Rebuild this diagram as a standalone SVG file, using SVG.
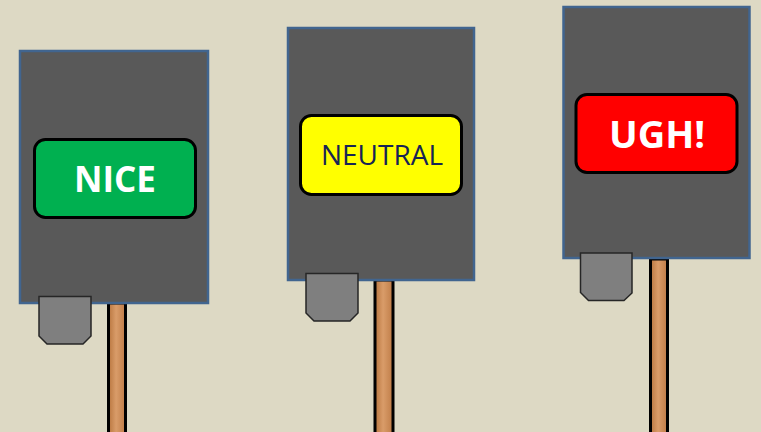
<svg xmlns="http://www.w3.org/2000/svg" width="761" height="432" viewBox="0 0 761 432">
<defs>
<linearGradient id="wood" x1="0" y1="0" x2="1" y2="0">
<stop offset="0" stop-color="#B9763F"/>
<stop offset="0.45" stop-color="#D99C69"/>
<stop offset="1" stop-color="#BF7C47"/>
</linearGradient>
<style>
.board{fill:#595959;stroke:#41658F;stroke-width:2.5}
.pole{fill:url(#wood);stroke:#000;stroke-width:3}
.tab{fill:#7F7F7F;stroke:#262626;stroke-width:1.5;stroke-linejoin:miter}
.lbl{stroke:#000;stroke-width:3}
.t{font-family:"Open Sans","Liberation Sans",sans-serif;text-anchor:middle}
</style>
</defs>
<rect width="761" height="432" fill="#DDD9C4"/>
<g id="sign-nice">
<rect class="pole" x="108.5" y="303" width="17" height="135"/>
<rect class="board" x="20" y="51" width="188" height="252"/>
<polygon class="tab" points="39,296.5 91,296.5 91,336 83,344 47,344 39,336"/>
<rect class="lbl" x="34.5" y="139.5" width="161" height="78" rx="11" fill="#00B050"/>
<text class="t" x="115" y="192" font-size="35" font-weight="bold" fill="#FFFFFF">NICE</text>
</g>
<g id="sign-neutral">
<rect class="pole" x="375" y="280" width="18" height="158"/>
<rect class="board" x="288" y="28" width="186" height="252"/>
<polygon class="tab" points="306,273.5 358,273.5 358,313 350,321 314,321 306,313"/>
<rect class="lbl" x="300.5" y="115.5" width="161" height="79" rx="11" fill="#FFFF00"/>
<text class="t" x="382" y="165" font-size="28" fill="#172455">NEUTRAL</text>
</g>
<g id="sign-ugh">
<rect class="pole" x="650.5" y="259" width="17" height="179"/>
<rect class="board" x="563.5" y="7" width="186" height="251"/>
<polygon class="tab" points="580.5,253 632,253 632,293 624,300.5 588.5,300.5 580.5,292.5"/>
<rect class="lbl" x="576" y="94.5" width="161" height="78" rx="11" fill="#FF0000"/>
<text class="t" x="657" y="148" font-size="38" font-weight="bold" fill="#FFFFFF">UGH!</text>
</g>
<g id="connectors"/>
</svg>
